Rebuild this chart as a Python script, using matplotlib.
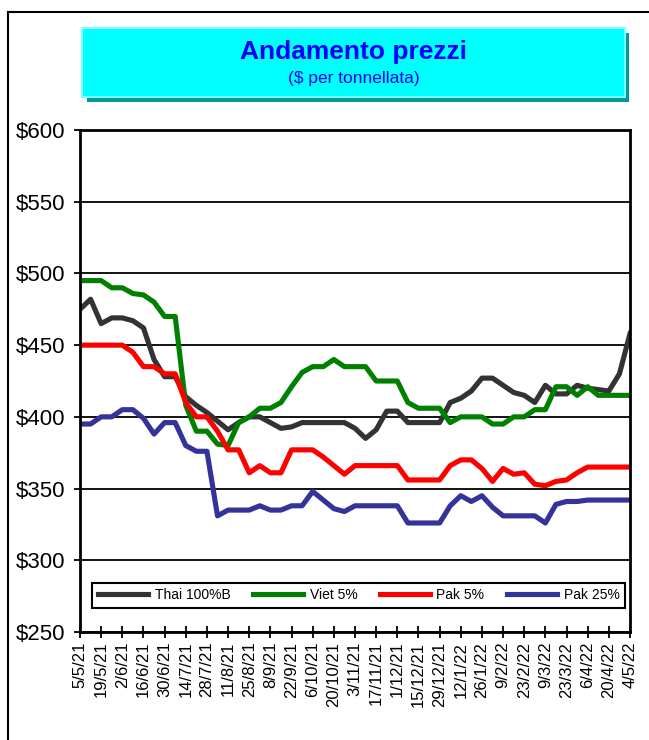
"""Andamento prezzi riso: Thai / Viet / Pak, weekly quotes May 2021 - May 2022."""

import numpy as np
import matplotlib.pyplot as plt
from matplotlib.patches import Rectangle
from matplotlib.lines import Line2D

plt.rcParams['font.family'] = ['Liberation Sans', 'DejaVu Sans']

# weekly points, 5/5/21 .. 4/5/22
weeks = np.arange(53)
tick_labels = ['5/5/21', '19/5/21', '2/6/21', '16/6/21', '30/6/21', '14/7/21', '28/7/21',
               '11/8/21', '25/8/21', '8/9/21', '22/9/21', '6/10/21', '20/10/21', '3/11/21',
               '17/11/21', '1/12/21', '15/12/21', '29/12/21', '12/1/22', '26/1/22', '9/2/22',
               '23/2/22', '9/3/22', '23/3/22', '6/4/22', '20/4/22', '4/5/22']

thai = [475, 482, 465, 469, 469, 467, 462, 440, 428, 428, 414, 408, 403, 397, 391, 396, 400, 400,
        396, 392, 393, 396, 396, 396, 396, 396, 392, 385, 391, 404, 404, 396, 396, 396, 396, 410,
        413, 418, 427, 427, 422, 417, 415, 410, 422, 416, 416, 422, 420, 419, 418, 430, 458]
viet = [495, 495, 495, 490, 490, 486, 485, 480, 470, 470, 408, 390, 390, 381, 380, 396, 400, 406,
        406, 410, 421, 431, 435, 435, 440, 435, 435, 435, 425, 425, 425, 410, 406, 406, 406, 396,
        400, 400, 400, 395, 395, 400, 400, 405, 405, 421, 421, 415, 421, 415, 415, 415, 415]
pak5 = [450, 450, 450, 450, 450, 445, 435, 435, 430, 430, 410, 400, 400, 390, 377, 377, 361, 366,
        361, 361, 377, 377, 377, 372, 366, 360, 366, 366, 366, 366, 366, 356, 356, 356, 356, 366,
        370, 370, 364, 355, 364, 360, 361, 353, 352, 355, 356, 361, 365, 365, 365, 365, 365]
pak25 = [395, 395, 400, 400, 405, 405, 399, 388, 396, 396, 380, 376, 376, 331, 335, 335, 335, 338,
         335, 335, 338, 338, 348, 342, 336, 334, 338, 338, 338, 338, 338, 326, 326, 326, 326, 338,
         345, 341, 345, 337, 331, 331, 331, 331, 326, 339, 341, 341, 342, 342, 342, 342, 342]

series = [('Thai 100%B', thai, '#333333'),
          ('Viet 5%', viet, '#008000'),
          ('Pak 5%', pak5, '#FF0000'),
          ('Pak 25%', pak25, '#333399')]

W, H = 649, 740
fig = plt.figure(figsize=(W / 100, H / 100), dpi=100)

# outer chart frame (top and left edges visible)
fig.add_artist(Line2D([8 / W, 1], [1 - 12 / H, 1 - 12 / H], transform=fig.transFigure, color='k', lw=1.5))
fig.add_artist(Line2D([8 / W, 8 / W], [0, 1 - 12 / H], transform=fig.transFigure, color='k', lw=1.5))

# title box with shadow
fig.add_artist(Rectangle((87 / W, 1 - 102 / H), 542 / W, 69 / H, transform=fig.transFigure,
                         facecolor='#009999', edgecolor='none'))
fig.add_artist(Rectangle((82 / W, 1 - 97 / H), 543 / W, 69 / H, transform=fig.transFigure,
                         facecolor='#00FFFF', edgecolor='#80FFFF', lw=1.5))
fig.text(353.5 / W, 1 - 52 / H, 'Andamento prezzi', ha='center', va='center',
         fontsize=19, fontweight='bold', color='#0000FF')
fig.text(353.5 / W, 1 - 78 / H, '($ per tonnellata)', ha='center', va='center',
         fontsize=12.5, color='#0000FF')

ax = fig.add_axes([80 / W, 1 - 632 / H, 550 / W, 502 / H])

for name, vals, col in series:
    ax.plot(weeks, vals, color=col, lw=3.7, label=name, solid_joinstyle='round')

ax.set_xlim(0, 52)
ax.set_ylim(250, 600)
ax.set_yticks(np.arange(250, 601, 50))
ax.set_yticklabels([f'${v}' for v in range(250, 601, 50)], fontsize=16)
ax.set_xticks(weeks[::2])
ax.set_xticklabels(tick_labels, rotation=90, fontsize=12)
ax.tick_params(axis='y', direction='out', length=4.5, width=1.3, pad=6)
ax.tick_params(axis='x', direction='inout', length=8, width=1.3, pad=3)

ax.yaxis.grid(True, color='k', lw=1.3)
for sp in ax.spines.values():
    sp.set_linewidth(2)

leg = ax.legend(loc='lower left', bbox_to_anchor=(0.022, 0.048, 0.969, 0.067), mode='expand',
                ncol=4, fontsize=10, handlelength=3.6, handletextpad=0.5, borderaxespad=0,
                fancybox=False, framealpha=1, edgecolor='k')
leg.get_frame().set_linewidth(1.5)

fig.savefig('out.png', dpi=100)
